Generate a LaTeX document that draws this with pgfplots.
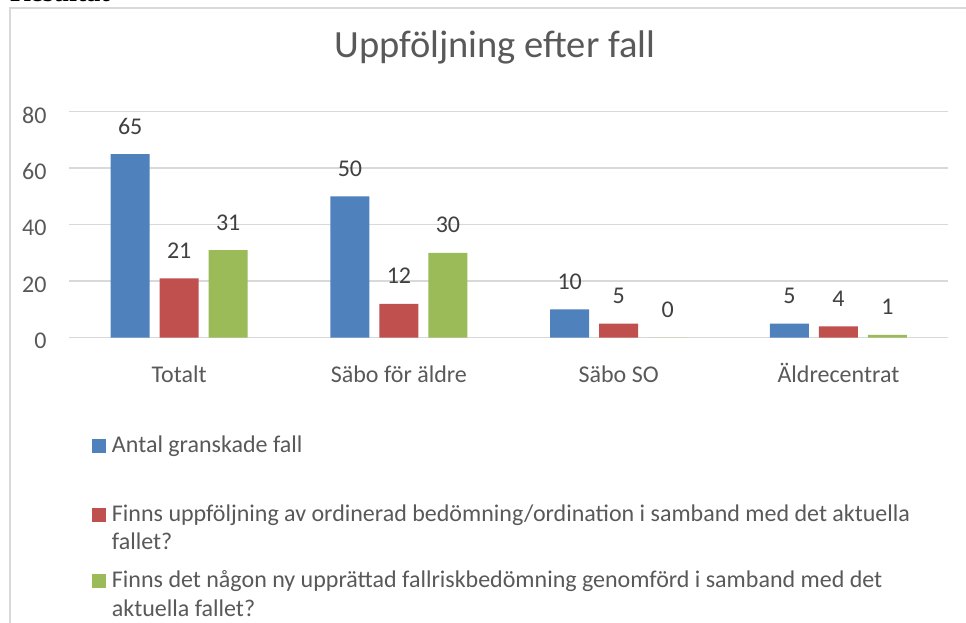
\documentclass[border=0pt]{standalone}
\usepackage{pgfplots}
\pgfplotsset{compat=1.18}
\usepackage{fontspec}
\setmainfont{Carlito}
\newfontfamily\resfont{Liberation Serif}
\definecolor{cblue}{HTML}{4F81BD}
\definecolor{cred}{HTML}{C0504D}
\definecolor{cgreen}{HTML}{9BBB59}
\definecolor{txt}{HTML}{595959}
\definecolor{lbl}{HTML}{404040}
\definecolor{gridc}{HTML}{D9D9D9}
\begin{document}
\begin{tikzpicture}[x=1pt,y=1pt]
\useasboundingbox (0,0) rectangle (966,622);
\fill[white] (0,0) rectangle (966,622);
\node[anchor=base west, inner sep=0pt, font=\resfont\bfseries\fontsize{28}{30}\selectfont] at (10,620) {Resultat};
\draw[gridc, line width=1.5pt] (10,-5) -- (10,614) -- (980,614);
\node[anchor=base, inner sep=0pt, text=txt, font=\fontsize{38.5}{44}\selectfont] at (495,564) {Uppföljning efter fall};
\begin{axis}[
  at={(69.3pt,284.3pt)}, anchor=south west,
  width=879pt, height=226pt, scale only axis,
  xmin=-0.5, xmax=3.5, ymin=0, ymax=80, enlargelimits=false,
  xtick={0,1,2,3}, xticklabels={Totalt,Säbo för äldre,Säbo SO,Äldrecentrat},
  ytick={0,20,40,60,80},
  ymajorgrids, grid style={gridc, line width=1.5pt},
  axis line style={draw=none},
  major tick length=0pt, tick style={draw=none},
  ticklabel style={font=\fontsize{24}{29}\selectfont, text=txt, inner sep=0pt},
  yticklabel style={anchor=east, xshift=-22.6pt, yshift=-3.5pt},
  xticklabel style={anchor=base, yshift=-45pt},
  /pgf/number format/assume math mode=true,
  ybar=10pt, bar width=39pt,
  nodes near coords,
  every node near coord/.append style={anchor=base, inner sep=0pt, yshift=20pt, text=lbl, font=\fontsize{24}{29}\selectfont},
  clip=false,
  legend style={at={(0.0258,-0.426)}, anchor=north west, draw=none, fill=none,
    inner sep=0pt, outer sep=0pt, row sep=0pt, column sep=6pt,
    font=\fontsize{24}{29}\selectfont, text=txt,
    cells={anchor=base west}, nodes={inner sep=0pt}},
]
\addplot[fill=cblue, draw=none, legend image code/.code={\fill[cblue] (0pt,0pt) rectangle (14pt,14pt);}]
  coordinates {(0,65) (1,50) (2,10) (3,5)};
\addlegendentry[text height=19pt, text depth=50pt]{Antal granskade fall}
\addplot[fill=cred, draw=none, legend image code/.code={\fill[cred] (0pt,0pt) rectangle (14pt,14pt);}]
  coordinates {(0,21) (1,12) (2,5) (3,4)};
\addlegendentry[text height=19pt, text depth=9pt]{Finns uppföljning av ordinerad bedömning/ordination i samband med det aktuella}
\addlegendimage{empty legend}
\addlegendentry[text height=19pt, text depth=19pt]{fallet?}
\addplot[fill=cgreen, draw=none, legend image code/.code={\fill[cgreen] (0pt,0pt) rectangle (14pt,14pt);}]
  coordinates {(0,31) (1,30) (2,0) (3,1)};
\addlegendentry[text height=19pt, text depth=10pt]{Finns det någon ny upprättad fallriskbedömning genomförd i samband med det}
\addlegendimage{empty legend}
\addlegendentry[text height=19pt, text depth=9pt]{aktuella fallet?}
\end{axis}
\end{tikzpicture}
\end{document}
